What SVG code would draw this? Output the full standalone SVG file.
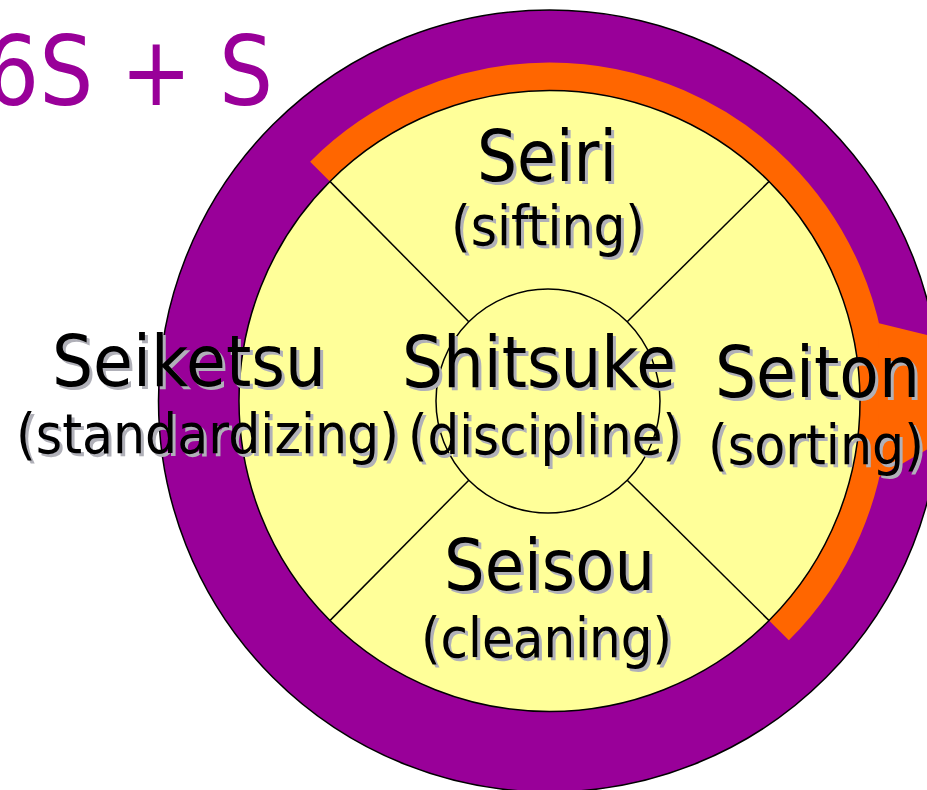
<svg xmlns="http://www.w3.org/2000/svg" width="927" height="790" viewBox="0 0 927 790">
  <style>
    .lbl { font-family: "DejaVu Sans", Tahoma, Verdana, sans-serif; }
    .main { font-size: 72px; }
    .sub { font-size: 56px; }
    .sh { fill: #B0B0B8; }
    .fg { fill: #000000; }
    .edge { stroke: #000000; stroke-width: 1.5; }
  </style>
  <rect x="0" y="0" width="927" height="790" fill="#FFFFFF"/>

  <g id="title">
    <text class="lbl" x="-15" y="105" font-size="96" fill="#990099" textLength="288" lengthAdjust="spacingAndGlyphs">6S + S</text>
  </g>

  <g id="wheel">
    <circle id="outer-ring" cx="549.5" cy="401" r="391" fill="#990099" class="edge"/>
    <path id="orange-band" d="M 320.05 171.55 A 324.5 324.5 0 0 1 778.95 171.55 A 324.5 324.5 0 0 1 778.95 630.45" fill="none" stroke="#FF6600" stroke-width="28"/>
    <polygon id="orange-arrowhead" points="878,323 1067,369 879,477" fill="#FF6600"/>
    <circle id="yellow-disc" cx="549.5" cy="401" r="310.5" fill="#FFFF99" class="edge"/>
  </g>

  <g id="connectors" class="edge" fill="none">
    <line x1="329.9" y1="181.4" x2="468.8" y2="321.8"/>
    <line x1="769.1" y1="181.4" x2="627.2" y2="321.8"/>
    <line x1="329.9" y1="620.6" x2="468.8" y2="480.2"/>
    <line x1="769.1" y1="620.6" x2="627.2" y2="480.2"/>
  </g>

  <g id="center-node">
    <circle cx="548" cy="401" r="112" fill="none" class="edge"/>
  </g>

  <g id="seiri">
    <text class="lbl main sh" x="480" y="184" textLength="140" lengthAdjust="spacingAndGlyphs">Seiri</text>
    <text class="lbl main fg" x="477" y="181" textLength="140" lengthAdjust="spacingAndGlyphs">Seiri</text>
    <text class="lbl sub sh" x="454" y="248" textLength="194" lengthAdjust="spacingAndGlyphs">(sifting)</text>
    <text class="lbl sub fg" x="451" y="245" textLength="194" lengthAdjust="spacingAndGlyphs">(sifting)</text>
  </g>

  <g id="seiketsu">
    <text class="lbl main sh" x="55" y="389" textLength="274" lengthAdjust="spacingAndGlyphs">Seiketsu</text>
    <text class="lbl main fg" x="52" y="386" textLength="274" lengthAdjust="spacingAndGlyphs">Seiketsu</text>
    <text class="lbl sub sh" x="19" y="456" textLength="383" lengthAdjust="spacingAndGlyphs">(standardizing)</text>
    <text class="lbl sub fg" x="16" y="453" textLength="383" lengthAdjust="spacingAndGlyphs">(standardizing)</text>
  </g>

  <g id="shitsuke">
    <text class="lbl main sh" x="405" y="390" textLength="274" lengthAdjust="spacingAndGlyphs">Shitsuke</text>
    <text class="lbl main fg" x="402" y="387" textLength="274" lengthAdjust="spacingAndGlyphs">Shitsuke</text>
    <text class="lbl sub sh" x="411" y="457" textLength="274" lengthAdjust="spacingAndGlyphs">(discipline)</text>
    <text class="lbl sub fg" x="408" y="454" textLength="274" lengthAdjust="spacingAndGlyphs">(discipline)</text>
  </g>

  <g id="seiton">
    <text class="lbl main sh" x="718" y="400" textLength="205" lengthAdjust="spacingAndGlyphs">Seiton</text>
    <text class="lbl main fg" x="715" y="397" textLength="205" lengthAdjust="spacingAndGlyphs">Seiton</text>
    <text class="lbl sub sh" x="711" y="467" textLength="216" lengthAdjust="spacingAndGlyphs">(sorting)</text>
    <text class="lbl sub fg" x="708" y="464" textLength="216" lengthAdjust="spacingAndGlyphs">(sorting)</text>
  </g>

  <g id="seisou">
    <text class="lbl main sh" x="447" y="593" textLength="211" lengthAdjust="spacingAndGlyphs">Seisou</text>
    <text class="lbl main fg" x="444" y="590" textLength="211" lengthAdjust="spacingAndGlyphs">Seisou</text>
    <text class="lbl sub sh" x="424" y="660" textLength="251" lengthAdjust="spacingAndGlyphs">(cleaning)</text>
    <text class="lbl sub fg" x="421" y="657" textLength="251" lengthAdjust="spacingAndGlyphs">(cleaning)</text>
  </g>
</svg>
